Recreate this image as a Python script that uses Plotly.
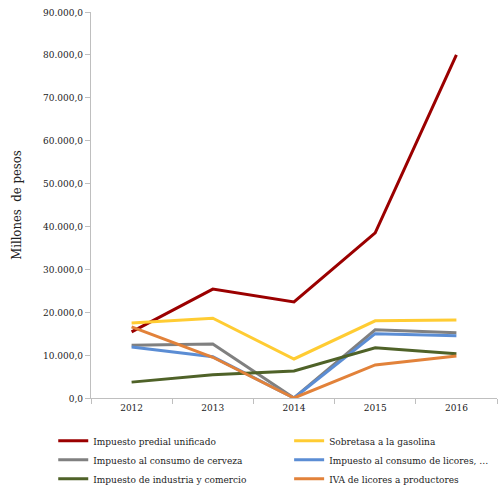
import plotly.graph_objects as go

years = ["2012", "2013", "2014", "2015", "2016"]

predial = [15400, 25400, 22400, 38500, 80000]
gasolina = [17500, 18600, 9100, 18000, 18200]
cerveza = [12300, 12600, 0, 15900, 15200]
licores = [11900, 9600, 0, 15000, 14500]
industria = [3700, 5400, 6300, 11700, 10300]
iva = [16600, 9500, 0, 7700, 9800]

# (name, values, colour, legend column)
series = [
    ("Impuesto predial unificado", predial, "#9b0000", "legend"),
    ("Sobretasa a la gasolina", gasolina, "#ffcc33", "legend2"),
    ("Impuesto al consumo de cerveza", cerveza, "#808080", "legend"),
    ("Impuesto al consumo de licores, …", licores, "#5b8dd4", "legend2"),
    ("Impuesto de industria y comercio", industria, "#4f6228", "legend"),
    ("IVA de licores a productores", iva, "#e2823a", "legend2"),
]

fig = go.Figure()
for name, vals, col, leg in series:
    fig.add_trace(go.Scatter(x=years, y=vals, name=name, mode="lines", legend=leg,
                             legendgroup=name, line=dict(color=col, width=3)))

serif = "DejaVu Serif Condensed, DejaVu Serif"
legfont = dict(family=serif, size=10, color="#222")
fig.update_layout(
    width=499, height=493,
    margin=dict(l=91, r=2, t=12, b=95, autoexpand=False),
    paper_bgcolor="white", plot_bgcolor="white",
    font=dict(family=serif, size=10, color="#222"),
    separators=",.",
    showlegend=True,
    legend=dict(x=-0.093, y=-0.073, xanchor="left", yanchor="top", font=legfont,
                tracegroupgap=0, itemwidth=30),
    legend2=dict(x=0.488, y=-0.073, xanchor="left", yanchor="top", font=legfont,
                 tracegroupgap=0, itemwidth=30),
    xaxis=dict(type="category", range=[-0.5, 4.5], showline=True, linecolor="#bfbfbf",
               linewidth=1, ticks="outside", tickson="boundaries", ticklen=5,
               tickcolor="#bfbfbf", showgrid=False),
    yaxis=dict(range=[0, 90000], dtick=10000, tickformat=",.1f", showline=True,
               linecolor="#bfbfbf", linewidth=1, ticks="outside", ticklen=5,
               tickcolor="#bfbfbf", showgrid=False, zeroline=False,
               title=dict(text="Millones  de pesos", font=dict(size=13), standoff=18)),
)

fig.write_html("out.html", config={"displayModeBar": False},
               post_script="document.body.style.margin='0';")
